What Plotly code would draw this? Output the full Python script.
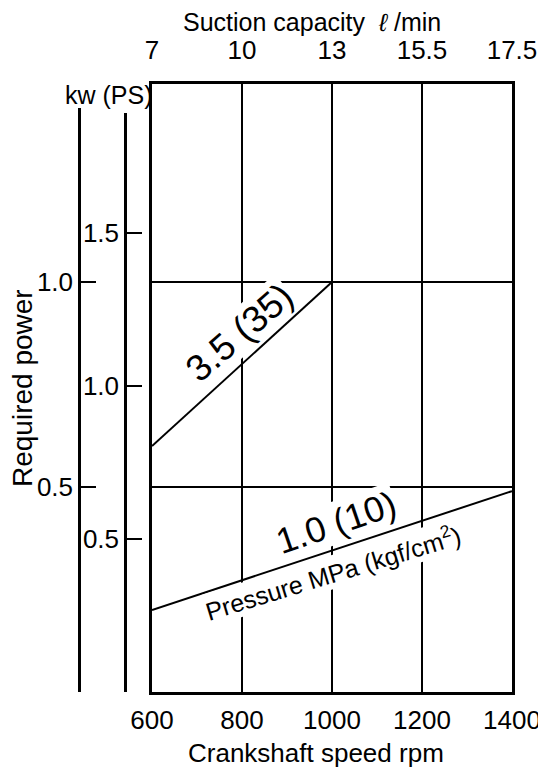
import plotly.graph_objects as go

# ---- data ----
speed_ticks = [600, 800, 1000, 1200, 1400]          # crankshaft speed rpm
suction_labels = ["7", "10", "13", "15.5", "17.5"]  # suction capacity l/min at those speeds
kw_ticks = [0.5, 1.0]
ps_ticks = [0.5, 1.0, 1.5]

speed_35 = [600, 1000]     # 3.5 MPa (35 kgf/cm2)
power_35 = [0.60, 1.0]     # kW
speed_10 = [600, 1400]     # 1.0 MPa (10 kgf/cm2)
power_10 = [0.20, 0.49]    # kW

# ---- geometry (window pixels; the page body adds an 8 px offset) ----
OFF = 8
W, H = 546 - OFF, 769 - OFF
L, R, T, B = 152, 512, 84, 692
PW, PH = R - OFF, B - T    # paper width (margin l = 0), paper height
KW_PX = 410.0              # pixels per kW
PS_PX = 306.0              # pixels per PS
KW_TOP, PS_TOP = 108, 113  # tops of the side scales

FONT = "Arial"

def px(x):
    return (x - OFF) / PW

def py(y):
    return (B - y) / PH

fig = go.Figure()
line = dict(color="black", width=2)
fig.add_trace(go.Scatter(x=speed_35, y=power_35, mode="lines", line=line,
                         showlegend=False, hoverinfo="skip"))
fig.add_trace(go.Scatter(x=speed_10, y=power_10, mode="lines", line=line,
                         showlegend=False, hoverinfo="skip"))
# empty traces so the secondary axes are drawn
fig.add_trace(go.Scatter(x=[], y=[], xaxis="x2", yaxis="y", showlegend=False, hoverinfo="skip"))
fig.add_trace(go.Scatter(x=[], y=[], xaxis="x", yaxis="y2", showlegend=False, hoverinfo="skip"))
fig.add_trace(go.Scatter(x=[], y=[], xaxis="x", yaxis="y3", showlegend=False, hoverinfo="skip"))

tickfont = dict(family=FONT, size=26, color="black")
clear = "rgba(0,0,0,0)"

fig.update_layout(
    template="none",
    width=W, height=H,
    margin=dict(l=0, r=W - PW, t=T - OFF, b=H - (B - OFF), pad=0, autoexpand=False),
    paper_bgcolor="white", plot_bgcolor=clear,
    font=dict(family=FONT, color="black"),
    xaxis=dict(domain=[px(L), 1], range=[600, 1400], tickvals=speed_ticks,
               ticktext=[str(v) for v in speed_ticks], tickfont=tickfont,
               ticks="outside", ticklen=3, tickcolor=clear, automargin=False,
               showgrid=True, gridcolor="black", gridwidth=2,
               showline=True, linecolor="black", linewidth=2.5, mirror=True,
               zeroline=False),
    xaxis2=dict(overlaying="x", side="top", range=[600, 1400], tickvals=speed_ticks,
                ticktext=suction_labels, tickfont=tickfont, automargin=False,
                ticks="outside", ticklen=14, tickcolor=clear,
                showgrid=False, showline=False, zeroline=False),
    yaxis=dict(domain=[0, 1], range=[0, PH / KW_PX], tickvals=kw_ticks,
               showticklabels=False, ticks="", automargin=False,
               showgrid=True, gridcolor="black", gridwidth=2,
               showline=True, linecolor="black", linewidth=2.5, mirror=True,
               zeroline=False),
    yaxis2=dict(anchor="free", position=px(79), side="left", automargin=False,
                domain=[0, (B - KW_TOP) / PH], range=[0, (B - KW_TOP) / KW_PX],
                tickvals=[0] + kw_ticks, ticktext=[""] + [f"{v:.1f}" for v in kw_ticks],
                tickfont=tickfont, ticks="inside", ticklen=15, tickwidth=2,
                tickcolor="black", showline=True, linecolor="black", linewidth=2.5,
                showgrid=False, zeroline=False),
    yaxis3=dict(anchor="free", position=px(125), side="left", automargin=False,
                domain=[0, (B - PS_TOP) / PH], range=[0, (B - PS_TOP) / PS_PX],
                tickvals=[0] + ps_ticks, ticktext=[""] + [f"{v:.1f}" for v in ps_ticks],
                tickfont=tickfont, ticks="inside", ticklen=15, tickwidth=2,
                tickcolor="black", showline=True, linecolor="black", linewidth=2.5,
                showgrid=False, zeroline=False),
)

def note(text, x, y, size, angle=0, xref="paper", yref="paper", bg=None):
    fig.add_annotation(text=text, x=x, y=y, xref=xref, yref=yref, showarrow=False,
                       textangle=angle, font=dict(family=FONT, size=size, color="black"),
                       xanchor="center", yanchor="middle",
                       bgcolor=bg if bg else clear, borderpad=0)

note("Suction capacity\u00a0\u00a0<i>\u2113</i>\u00a0/min", px(312), py(22), 25)
note("Crankshaft speed rpm", px(316), py(753), 26)
note("Required power", px(22), py(388), 28, angle=-90)
note("kw (PS)", px(109), py(95), 25)

note("3.5 (35)", 795, 0.876, 37, angle=-41, xref="x", yref="y", bg="white")
note("1.0 (10)", 1009, 0.414, 36, angle=-19, xref="x", yref="y", bg="white")
note("Pressure MPa (kgf/cm<sup>2</sup>)", 1002, 0.293, 25, angle=-17, xref="x", yref="y", bg="white")

fig.write_html("out.html")
